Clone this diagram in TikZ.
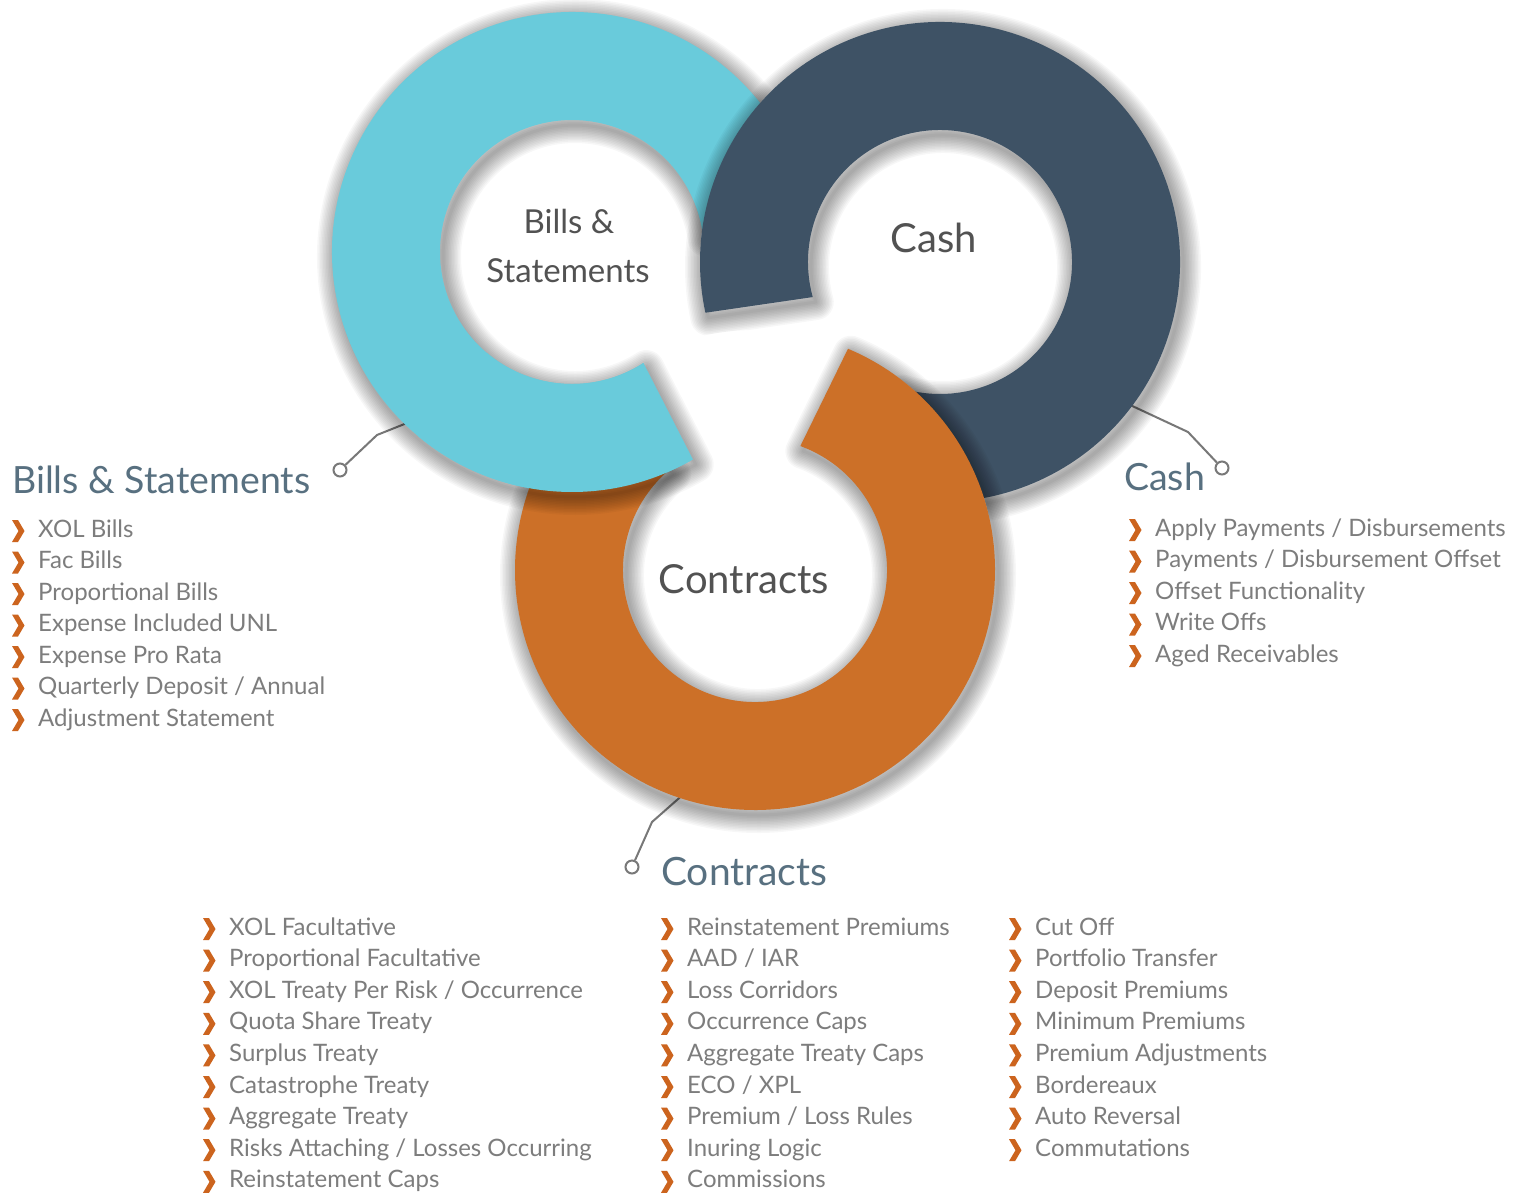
\documentclass[tikz,border=0pt]{standalone}
\usepackage{fontspec}
\setmainfont{Lato}
\usetikzlibrary{calc}
\definecolor{cblue}{RGB}{105,203,219}
\definecolor{cdark}{RGB}{62,82,101}
\definecolor{corange}{RGB}{204,112,40}
\definecolor{chead}{RGB}{88,112,128}
\definecolor{ctext}{RGB}{125,125,125}
\definecolor{cring}{RGB}{82,82,82}
\definecolor{cchev}{RGB}{204,100,30}
\definecolor{cline}{RGB}{120,120,120}
\newcommand\softshadow[1]{\foreach \w in {3,6,...,36}{\path[#1, draw=black, draw opacity=0.033, line width=\w, line join=round];}}
% clockwise rectangle + counter-clockwise circle: nonzero rule leaves the disk out
\newcommand\notdisk[2]{\clip (0,0) -- (1520,0) -- (1520,-1195) -- (0,-1195) -- cycle (#1,#2) circle[radius=240];}
\begin{document}
\begin{tikzpicture}[x=1pt,y=1pt,
  ringB/.style={shift={(572,-252)}, insert path={(8:240) arc[start angle=8,end angle=300.2,radius=240] -- (302.7:132) arc[start angle=302.7,end angle=8,radius=132] -- cycle}},
  ringBend/.style={shift={(572,-252)}, insert path={(230:240) arc[start angle=230,end angle=300.2,radius=240] -- (302.7:132) arc[start angle=302.7,end angle=230,radius=132] -- cycle}},
  ringD/.style={shift={(940,-262)}, insert path={(-108:240) arc[start angle=-108,end angle=192.2,radius=240] -- (195.4:132) arc[start angle=195.4,end angle=-108,radius=132] -- cycle}},
  ringO/.style={shift={(755,-570)}, insert path={(130:240) arc[start angle=130,end angle=427.2,radius=240] -- (429.9:132) arc[start angle=429.9,end angle=130,radius=132] -- cycle}},
  shd/.style={shift={(3,-5)}},
  listtxt/.style={anchor=base west, inner sep=0pt, text=ctext, font=\fontsize{24}{28}\selectfont},
  headtxt/.style={anchor=base west, inner sep=0pt, text=chead, font=\fontsize{37.5}{44}\selectfont},
  ringtxt/.style={anchor=base, inner sep=0pt, text=cring},
  conn/.style={draw=cline, line width=2pt},
  dot/.style={circle, draw=cline, line width=2pt, fill=white, minimum size=13pt, inner sep=0pt},
  chev/.pic={\fill[cchev] (0,0) -- (6,0) -- (12.5,-11) -- (6,-22) -- (0,-22) -- (6.5,-11) -- cycle;}
]
\useasboundingbox (0,0) rectangle (1520,-1195);
\fill[white] (0,0) rectangle (1520,-1195);

% connectors
\coordinate (bA) at (412,-421);
\coordinate (bB) at (377,-435);
\node[dot] (bC) at (340,-470) {};
\draw[conn] (bA) -- (bB) -- (bC);
\coordinate (cA) at (1128,-404);
\coordinate (cB) at (1188,-432);
\node[dot] (cC) at (1222,-468) {};
\draw[conn] (cA) -- (cB) -- (cC);
\coordinate (kA) at (686,-792);
\coordinate (kB) at (652,-822);
\node[dot] (kC) at (632,-867) {};
\draw[conn] (kA) -- (kB) -- (kC);

% blue ring
\begin{scope}\notdisk{940}{-262}\softshadow{shd, ringB}\end{scope}
\fill[cblue] [ringB];
% dark ring
\begin{scope}\notdisk{755}{-570}\softshadow{shd, ringD}\end{scope}
\fill[cdark] [ringD];
% orange ring
\begin{scope}\notdisk{572}{-252}\softshadow{shd, ringO}\end{scope}
\fill[corange] [ringO];
% blue end over orange
\begin{scope}\clip[ringO];\softshadow{shd, ringB}\end{scope}
\fill[cblue] [ringBend];

% ring labels
\node[ringtxt, font=\fontsize{33}{40}\selectfont] (rb1) at (569,-233) {Bills \&};
\node[ringtxt, font=\fontsize{33}{40}\selectfont] (rb2) at (568,-282) {Statements};
\node[ringtxt, font=\fontsize{40}{48}\selectfont] (rc) at (934,-252) {Cash};
\node[ringtxt, font=\fontsize{40}{48}\selectfont] (rk) at (744,-593) {Contracts};

% headings
\node[headtxt] (hb) at (12,-493) {Bills \& Statements};
\node[headtxt] (hc) at (1124,-490) {Cash};
\node[headtxt, font=\fontsize{39}{44}\selectfont] (hk) at (661,-885) {Contracts};

% lists
\foreach \t [count=\i] in {XOL Bills, Fac Bills, Proportional Bills, Expense Included UNL, Expense Pro Rata, Quarterly Deposit / Annual, Adjustment Statement}{
  \node[listtxt] (b\i) at (38,{-537-31.5*(\i-1)}) {\t};
  \pic at ($(b\i.base west)+(-26,17)$) {chev};
}
\foreach \t [count=\i] in {Apply Payments / Disbursements, Payments / Disbursement Offset, Offset Functionality, Write Offs, Aged Receivables}{
  \node[listtxt] (c\i) at (1155,{-536-31.5*(\i-1)}) {\t};
  \pic at ($(c\i.base west)+(-26,17)$) {chev};
}
\foreach \t [count=\i] in {XOL Facultative, Proportional Facultative, XOL Treaty Per Risk / Occurrence, Quota Share Treaty, Surplus Treaty, Catastrophe Treaty, Aggregate Treaty, Risks Attaching / Losses Occurring, Reinstatement Caps}{
  \node[listtxt] (k\i) at (229,{-935-31.6*(\i-1)}) {\t};
  \pic at ($(k\i.base west)+(-26,17)$) {chev};
}
\foreach \t [count=\i] in {Reinstatement Premiums, AAD / IAR, Loss Corridors, Occurrence Caps, Aggregate Treaty Caps, ECO / XPL, Premium / Loss Rules, Inuring Logic, Commissions}{
  \node[listtxt] (m\i) at (687,{-935-31.6*(\i-1)}) {\t};
  \pic at ($(m\i.base west)+(-26,17)$) {chev};
}
\foreach \t [count=\i] in {Cut Off, Portfolio Transfer, Deposit Premiums, Minimum Premiums, Premium Adjustments, Bordereaux, Auto Reversal, Commutations}{
  \node[listtxt] (n\i) at (1035,{-935-31.6*(\i-1)}) {\t};
  \pic at ($(n\i.base west)+(-26,17)$) {chev};
}
\end{tikzpicture}
\end{document}
